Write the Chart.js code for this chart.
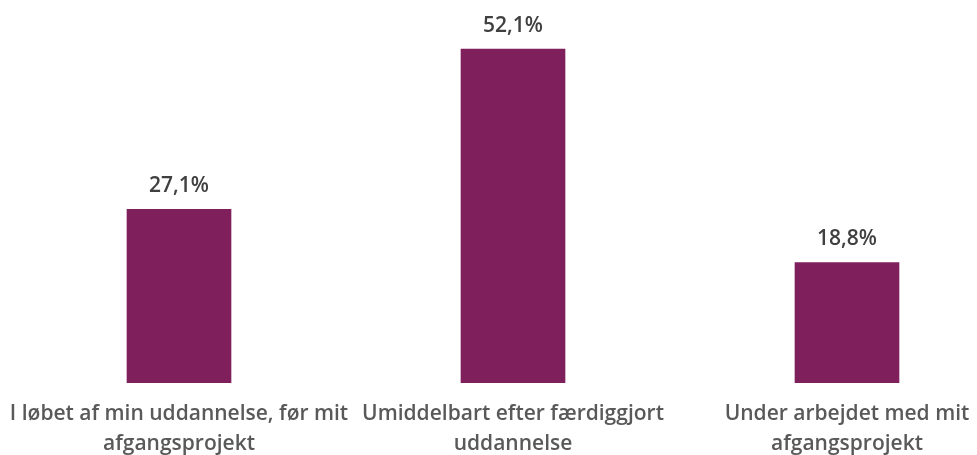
<!DOCTYPE html>
<html>
<head>
<meta charset="utf-8">
<script src="https://cdn.jsdelivr.net/npm/chart.js@4.4.1/dist/chart.umd.min.js"></script>
<style>
  html, body { margin: 0; padding: 0; background: #fff; }
  #wrap { width: 977px; height: 455px; position: relative; }
</style>
</head>
<body>
<div id="wrap"><canvas id="chart"></canvas></div>
<script>
const categories = [
  ["I løbet af min uddannelse, før mit", "afgangsprojekt"],
  ["Umiddelbart efter færdiggjort", "uddannelse"],
  ["Under arbejdet med mit", "afgangsprojekt"],
];
const shares = [27.1, 52.1, 18.8];

const barColor = "#7F1F5C";
const labelColor = "#595959";
const valueColor = "#404040";
const fontFamily = "'Open Sans', sans-serif";

// The original plot runs a little past the right edge of the picture,
// so stretch the category axis after layout.
const widenX = {
  id: "widenX",
  afterLayout(chart) {
    const x = chart.scales.x;
    x.left = 12;
    x.right = 1014;
    x.width = x.right - x.left;
    x.configure();
  },
};

// Percent labels above each bar
const valueLabels = {
  id: "valueLabels",
  afterDatasetsDraw(chart) {
    const ctx = chart.ctx;
    const meta = chart.getDatasetMeta(0);
    ctx.save();
    ctx.font = `600 21px ${fontFamily}`;
    ctx.fillStyle = valueColor;
    ctx.textAlign = "center";
    ctx.textBaseline = "middle";
    meta.data.forEach((bar, i) => {
      const txt = shares[i].toFixed(1).replace(".", ",") + "%";
      ctx.fillText(txt, bar.x, bar.y - 23);
    });
    ctx.restore();
  },
};

new Chart(document.getElementById("chart"), {
  type: "bar",
  data: {
    labels: categories,
    datasets: [
      {
        data: shares,
        backgroundColor: barColor,
        borderWidth: 0,
        barThickness: 104,
      },
    ],
  },
  options: {
    responsive: true,
    maintainAspectRatio: false,
    animation: false,
    layout: { padding: 0 },
    plugins: { legend: { display: false }, tooltip: { enabled: false } },
    scales: {
      x: {
        grid: { display: false },
        border: { display: false },
        ticks: {
          color: labelColor,
          font: { family: fontFamily, size: 21, weight: 600, lineHeight: 1.43 },
          padding: 8,
          autoSkip: false,
          maxRotation: 0,
        },
        afterFit(scale) {
          scale.height = 72;
        },
      },
      y: {
        display: false,
        min: 0,
        max: 59.75,
      },
    },
  },
  plugins: [widenX, valueLabels],
});
</script>
</body>
</html>
